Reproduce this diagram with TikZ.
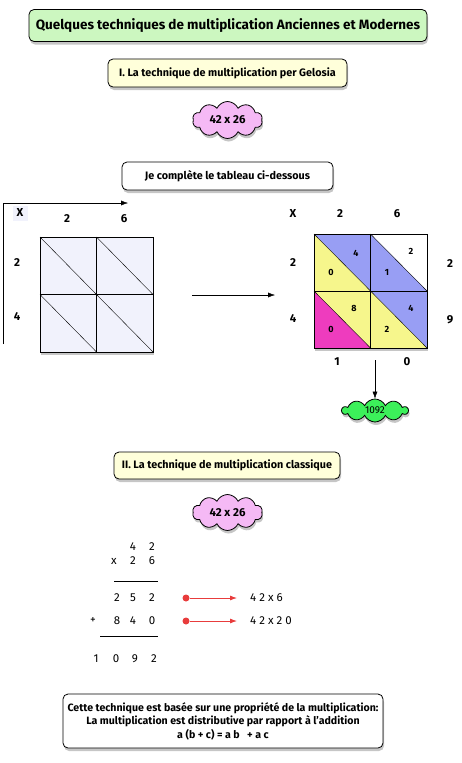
\documentclass[tikz,border=0pt]{standalone}
\usepackage{fontspec}
\setmainfont{Fira Sans}
\usetikzlibrary{shapes.symbols,shadows,arrows.meta}
\definecolor{vertclair}{RGB}{204,247,192}
\definecolor{creme}{RGB}{255,255,218}
\definecolor{rose}{RGB}{245,185,245}
\definecolor{vertvif}{RGB}{60,240,90}
\definecolor{lavande}{RGB}{241,242,252}
\definecolor{bleu}{RGB}{152,158,244}
\definecolor{jaune}{RGB}{246,246,140}
\definecolor{magenta}{RGB}{238,60,190}
\definecolor{rouge}{RGB}{232,60,60}
\begin{document}
\begin{tikzpicture}[x=1pt,y=-1pt,
	ombre/.style={drop shadow={shadow xshift=1pt,shadow yshift=-3pt,opacity=.45}},
	boite/.style={draw,thick,rounded corners=5pt,ombre,inner sep=0pt,font=\fontsize{10.8}{13}\selectfont\bfseries},
	nuage/.style={cloud,cloud puffs=10,cloud puff arc=130,draw,thick,ombre,inner sep=0pt,font=\fontsize{11.5}{13}\selectfont\bfseries},
	chiffre/.style={font=\fontsize{11.5}{13}\selectfont\bfseries},
	petit/.style={font=\fontsize{9}{10}\selectfont\bfseries},
	calcul/.style={font=\fontsize{11.5}{13}\selectfont},
	fleche/.style={-{Latex[length=7pt,width=5pt]}}]
	\useasboundingbox (0,0) rectangle (461,763);
	\node[boite,fill=vertclair,minimum width=398pt,minimum height=32pt,font=\fontsize{13.5}{15}\selectfont\bfseries] (titre) at (228,25.5) {Quelques techniques de multiplication Anciennes et Modernes};
	\node[boite,fill=creme,minimum width=239pt,minimum height=28pt] (partieI) at (227.5,73) {I. La technique de multiplication per Gelosia};
	\node[nuage,fill=rose,aspect=1.9,minimum width=70pt,minimum height=37pt] (produitI) at (227.5,120) {42 x 26};
	\node[boite,fill=white,minimum width=211pt,minimum height=28pt] (consigne) at (227.5,176) {Je complète le tableau ci-dessous};
	
	\coordinate (axebas) at (3,344);
	\coordinate (axefin) at (128,203);
	\draw[fleche] (axebas) |- (axefin);
	\node[chiffre,fill=lavande,minimum width=15pt,minimum height=15pt] (xg) at (20,213) {X};
	\node[chiffre] (hg1) at (67,219) {2};
	\node[chiffre] (hg2) at (124,219) {6};
	\node[chiffre] (vg1) at (17,263) {2};
	\node[chiffre] (vg2) at (17,317) {4};
	\draw[fill=lavande,ombre] (40,237) rectangle (153,352);
	\draw (96.5,237) -- (96.5,352) (40,294.5) -- (153,294.5);
	\foreach \i in {0,1}
		\foreach \j in {0,1}
			\draw (40+56.5*\i,237+57.5*\j) -- ++(56.5,57.5);
	
	\coordinate (flg) at (192,295);
	\coordinate (fld) at (275,295);
	\draw[fleche] (flg) -- (fld);
	
	\fill[white,ombre] (314,234) rectangle (427,348);
	\fill[bleu] (314,234) -- (370.5,234) -- (427,291) -- (427,348) -- (370.5,291) -- cycle;
	\fill[jaune] (314,234) -- (427,348) -- (370.5,348) -- (314,291) -- cycle;
	\fill[magenta] (314,291) -- (370.5,348) -- (314,348) -- cycle;
	\draw (314,234) rectangle (427,348);
	\draw (370.5,234) -- (370.5,348) (314,291) -- (427,291);
	\draw (314,234) -- (427,348) (370.5,234) -- (427,291) (314,291) -- (370.5,348);
	\node[chiffre] (xd) at (293,214) {X};
	\node[chiffre] (hd1) at (340,214) {2};
	\node[chiffre] (hd2) at (397,214) {6};
	\node[chiffre] (vd1) at (293,263) {2};
	\node[chiffre] (vd2) at (293,319) {4};
	\node[chiffre] (rd1) at (450,264) {2};
	\node[chiffre] (rd2) at (450,320) {9};
	\node[chiffre] (bd1) at (337,362) {1};
	\node[chiffre] (bd2) at (407,362) {0};
	\node[petit] (c11h) at (356,253) {4};
	\node[petit] (c11b) at (331,272) {0};
	\node[petit] (c12h) at (411,251) {2};
	\node[petit] (c12b) at (387,272) {1};
	\node[petit] (c21h) at (354,308) {8};
	\node[petit] (c21b) at (331,329) {0};
	\node[petit] (c22h) at (411,308) {4};
	\node[petit] (c22b) at (387,329) {2};
	
	\node[nuage,fill=vertvif,aspect=2.9,minimum width=66pt,minimum height=23pt,font=\fontsize{10}{12}\selectfont] (resultat) at (375,410.5) {1092};
	\coordinate (flbas) at (375,360);
	\draw[fleche] (flbas) -- (resultat.north);
	
	\node[boite,fill=creme,minimum width=226pt,minimum height=27pt] (partieII) at (227,465.5) {II. La technique de multiplication classique};
	\node[nuage,fill=rose,aspect=1.9,minimum width=70pt,minimum height=36pt] (produitII) at (227.5,512.5) {42 x 26};
	
	\foreach \c/\x in {4/133,2/152}
		\node[calcul] (l1\x) at (\x,547) {\c};
	\foreach \c/\x in {x/114,2/133,6/152}
		\node[calcul] (l2\x) at (\x,561) {\c};
	\draw[thick] (114,581) -- (158,581);
	\foreach \c/\x in {2/117,5/133,2/152}
		\node[calcul] (l3\x) at (\x,598) {\c};
	\foreach \c/\x in {+/93,8/117,4/133,0/152}
		\node[calcul] (l4\x) at (\x,621) {\c};
	\draw[thick] (100,636) -- (158,636);
	\foreach \c/\x in {1/96,0/116,9/135,2/154}
		\node[calcul] (l5\x) at (\x,659) {\c};
	
	\node[circle,fill=rouge,inner sep=0pt,minimum size=7pt] (pt1) at (186,598) {};
	\node[circle,fill=rouge,inner sep=0pt,minimum size=7pt] (pt2) at (186,621) {};
	\node[calcul,anchor=west,inner sep=0pt] (det1) at (250,598) {4 2 x 6};
	\node[calcul,anchor=west,inner sep=0pt] (det2) at (250,621) {4 2 x 2 0};
	\draw[rouge,thick,fleche,shorten >=13pt] (pt1) -- (det1.west);
	\draw[rouge,thick,fleche,shorten >=13pt] (pt2) -- (det2.west);
	
	\node[boite,fill=white,minimum width=320pt,minimum height=54pt,align=center,font=\fontsize{10.6}{13.5}\selectfont\bfseries] (regle) at (223,721) {Cette technique est basée sur une propriété de la multiplication:\\La multiplication est distributive par rapport à l'addition\\a (b + c) = a b \ \ + a c};
\end{tikzpicture}
\end{document}
